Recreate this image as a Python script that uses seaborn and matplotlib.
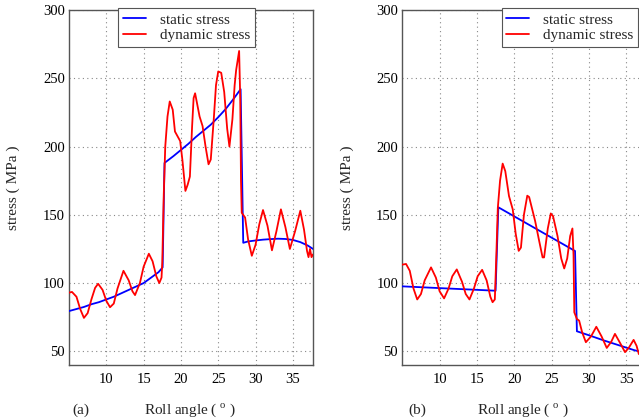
import matplotlib
matplotlib.use('Agg')
import matplotlib.pyplot as plt
import pandas as pd
import seaborn as sns

# Data (roll angle in degrees, stress in MPa)
static_a_x = [5, 6, 7, 8, 9, 10, 11, 12, 13, 14, 15, 16, 17, 17.55, 17.8, 19, 20, 21, 22, 23, 24, 25,
              26, 27, 28.0, 28.35, 29, 30, 31, 32, 33, 34, 35, 36, 37, 37.7]
static_a_y = [79.5, 81, 82.5, 84.5, 86, 88, 90, 92.5, 95, 97.5, 100, 104, 108, 111.5, 188, 193, 197.5,
              202, 207, 211.5, 216, 221.5, 227.5, 234.5, 242, 129.5, 130.5, 131.2, 131.8, 132.2, 132.5,
              132.3, 131.6, 130, 127.5, 125]

dynamic_a_x = [5.0, 5.4, 6.0, 6.5, 7.0, 7.5, 8.0, 8.5, 8.9, 9.5, 10.0, 10.5, 11.0, 11.5, 12.3, 13.0,
               13.5, 13.85, 14.5, 15.0, 15.7, 16.2, 16.7, 17.1, 17.4, 17.5, 17.7, 17.9, 18.2, 18.5,
               18.9, 19.2, 19.9, 20.2, 20.6, 20.9, 21.2, 21.5, 21.7, 21.9, 22.5, 22.9, 23.3, 23.7,
               24.0, 24.4, 24.7, 25.0, 25.4, 25.8, 26.2, 26.5, 26.9, 27.2, 27.4, 27.8, 27.95, 28.05,
               28.15, 28.6, 29.0, 29.5, 30.0, 30.5, 31.0, 31.6, 32.2, 32.8, 33.4, 34.0, 34.6, 35.3,
               36.0, 36.5, 36.9, 37.1, 37.3, 37.5, 37.7]
dynamic_a_y = [93, 93.5, 90, 81, 74.5, 78, 88, 96.5, 99.5, 95, 87, 82.3, 85, 96, 109, 102,
               94, 91.2, 100, 112, 121.5, 116, 105, 100, 104, 115, 165, 200, 222, 233,
               227, 211, 204, 190, 167.5, 172, 178, 215, 235.5, 239, 222, 215, 200, 187,
               190.5, 220, 245, 255, 254, 240, 213, 200, 220, 245, 256, 270, 235, 175,
               151.5, 148, 132, 120, 128, 143, 153.5, 142, 124, 138, 154, 141, 125, 138,
               153, 139, 123.5, 119, 125, 119, 121]

static_b_x = [5, 17.5, 17.87, 28.15, 28.4, 30, 32, 34, 36, 37.7]
static_b_y = [97.6, 94.4, 155.5, 123.5, 64.7, 61.8, 58, 54.5, 51, 48.5]

dynamic_b_x = [5.0, 5.5, 6.0, 6.5, 7.0, 7.5, 8.0, 8.85, 9.5, 10.0, 10.6, 11.2, 11.7, 12.3, 13.0,
               13.5, 14.0, 14.6, 15.1, 15.7, 16.3, 16.8, 17.1, 17.4, 17.6, 17.8, 18.1, 18.45, 18.8,
               19.3, 19.8, 20.2, 20.6, 20.9, 21.3, 21.75, 22.0, 22.8, 23.3, 23.8, 24.0, 24.5, 24.9,
               25.2, 25.8, 26.3, 26.7, 27.1, 27.5, 27.8, 27.95, 28.05, 28.4, 28.7, 29.1, 29.6, 30.3,
               31.0, 31.7, 32.4, 33.0, 33.5, 34.2, 34.85, 35.4, 36.0, 36.4, 36.7]
dynamic_b_y = [113.5, 114, 109, 96, 88, 92, 102, 111.5, 104, 94, 88.8, 96, 105, 110, 101,
               92, 88, 96, 105, 109.7, 102, 90, 86, 88, 120, 155, 175, 187.5, 182,
               163.7, 154, 136, 123.6, 126, 150, 164, 163, 145.5, 132, 118.8, 118.8, 140, 151,
               149, 134.5, 118, 110.7, 118, 134.5, 140, 120, 78.6, 73.7, 72.5, 64, 56.7, 61,
               68, 61, 52.5, 57, 62.8, 56, 49.4, 53, 58.4, 54, 48]

x_ticks = [10, 15, 20, 25, 30, 35]
y_ticks = [50, 100, 150, 200, 250, 300]

sns.set_style('white')
plt.rcParams['font.family'] = ['Liberation Serif', 'DejaVu Serif']
plt.rcParams['mathtext.fontset'] = 'custom'
plt.rcParams['mathtext.rm'] = 'Liberation Serif'

fig = plt.figure(figsize=(6.39, 4.2), dpi=100)
ax_a = fig.add_axes([69 / 639, 55 / 420, 244 / 639, 355 / 420])
ax_b = fig.add_axes([402.3 / 639, 55 / 420, 244 / 639, 355 / 420])

panels = [
    (ax_a, static_a_x, static_a_y, dynamic_a_x, dynamic_a_y, 0.202, '(a)', 72),
    (ax_b, static_b_x, static_b_y, dynamic_b_x, dynamic_b_y, 0.407, '(b)', 408),
]

for ax, sx, sy, dx, dy, leg_x, tag, tag_px in panels:
    df_s = pd.DataFrame({'angle': sx, 'stress': sy})
    df_d = pd.DataFrame({'angle': dx, 'stress': dy})
    sns.lineplot(data=df_s, x='angle', y='stress', ax=ax, color='#0000ff', lw=1.3,
                 sort=False, estimator=None, label='static stress', zorder=3)
    sns.lineplot(data=df_d, x='angle', y='stress', ax=ax, color='#ff0000', lw=1.3,
                 sort=False, estimator=None, label='dynamic stress', zorder=4)
    ax.set_xlim(5, 37.7)
    ax.set_ylim(40, 300)
    ax.set_xticks(x_ticks)
    ax.set_yticks(y_ticks)
    ax.tick_params(length=0, labelsize=10.5, colors='black')
    ax.tick_params(axis='x', pad=6)
    ax.tick_params(axis='y', pad=3)
    ax.grid(True, color='#888888', linestyle=(0, (1, 3)), linewidth=0.8)
    for sp in ax.spines.values():
        sp.set_color('#555555')
        sp.set_linewidth(1.0)
    ax.set_xlabel(r'Roll angle ( $^{\mathrm{o}}$ )', fontsize=11)
    ax.set_ylabel('stress ( MPa )', fontsize=11)
    ax.xaxis.set_label_coords(0.495, -0.103)
    ax.yaxis.set_label_coords(-0.2, 0.5)
    leg = ax.legend(loc='upper left', bbox_to_anchor=(leg_x, 1.005), fontsize=11,
                    frameon=True, fancybox=False, framealpha=1, edgecolor='#555555',
                    handlelength=1.5, handletextpad=0.9, labelspacing=0.12,
                    borderpad=0.32, borderaxespad=0)
    leg.get_frame().set_linewidth(0.8)
    fig.text(tag_px / 639, 1 - 410 / 420, tag, fontsize=11, va='center', ha='left')

fig.savefig('out.png', dpi=100)
